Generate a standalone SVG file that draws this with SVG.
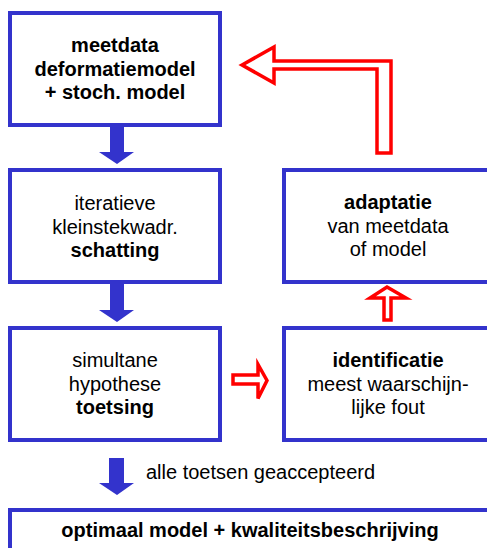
<svg xmlns="http://www.w3.org/2000/svg" width="487" height="548" viewBox="0 0 487 548">
<style>
.box{fill:#fff;stroke:#3333CC;stroke-width:4}
.t{font-family:"Liberation Sans",Arial,sans-serif;font-size:20px;fill:#000;text-anchor:middle}
.b{font-weight:bold}
.blue{fill:#3333CC;stroke:none}
.red{fill:#fff;stroke:#FF0000;stroke-width:3.5;stroke-linejoin:miter}
</style>
<rect width="487" height="548" fill="#fff"/>
<g id="connectors">
<polygon class="blue" points="110,126 124,126 124,152 134,152 117,164 99,152 110,152"/>
<polygon class="blue" points="110,284 124,284 124,310 134,310 117,322 99,310 110,310"/>
<polygon class="blue" points="109,458 124,458 124,483 134,483 117,495 99,483 109,483"/>
<polygon class="red" points="242,65 274,47 274,61 391,61 391,153 377,153 377,69 274,69 274,83"/>
<polygon class="red" points="387,287 406,298 391,298 391,320 384,320 384,298 370,298"/>
<polygon class="red" points="233,375 258,375 258,364.5 267,380.5 258,398.5 258,384 233,384"/>
</g>
<g id="n1">
<rect class="box" x="10" y="13" width="210" height="112"/>
<text class="t b" x="115" y="52">meetdata</text>
<text class="t b" x="115" y="75.5">deformatiemodel</text>
<text class="t b" x="115" y="99">+ stoch. model</text>
</g>
<g id="n2">
<rect class="box" x="10" y="170" width="210" height="112"/>
<text class="t" x="115" y="210">iteratieve</text>
<text class="t" x="115" y="233.5">kleinstekwadr.</text>
<text class="t b" x="115" y="257">schatting</text>
</g>
<g id="n3">
<rect class="box" x="10" y="328" width="210" height="112"/>
<text class="t" x="115" y="367">simultane</text>
<text class="t" x="115" y="390.5">hypothese</text>
<text class="t b" x="115" y="414">toetsing</text>
</g>
<g id="n4">
<rect class="box" x="284" y="170" width="208" height="112"/>
<text class="t b" x="388" y="209">adaptatie</text>
<text class="t" x="388" y="232.5">van meetdata</text>
<text class="t" x="388" y="256">of model</text>
</g>
<g id="n5">
<rect class="box" x="284" y="328" width="208" height="112"/>
<text class="t b" x="388" y="367">identificatie</text>
<text class="t" x="388" y="390.5">meest waarschijn-</text>
<text class="t" x="388" y="414">lijke fout</text>
</g>
<text class="t" x="146" y="479" style="text-anchor:start">alle toetsen geaccepteerd</text>
<g id="n6">
<rect class="box" x="10" y="510" width="482" height="60"/>
<text class="t b" x="250" y="537">optimaal model + kwaliteitsbeschrijving</text>
</g>
</svg>
